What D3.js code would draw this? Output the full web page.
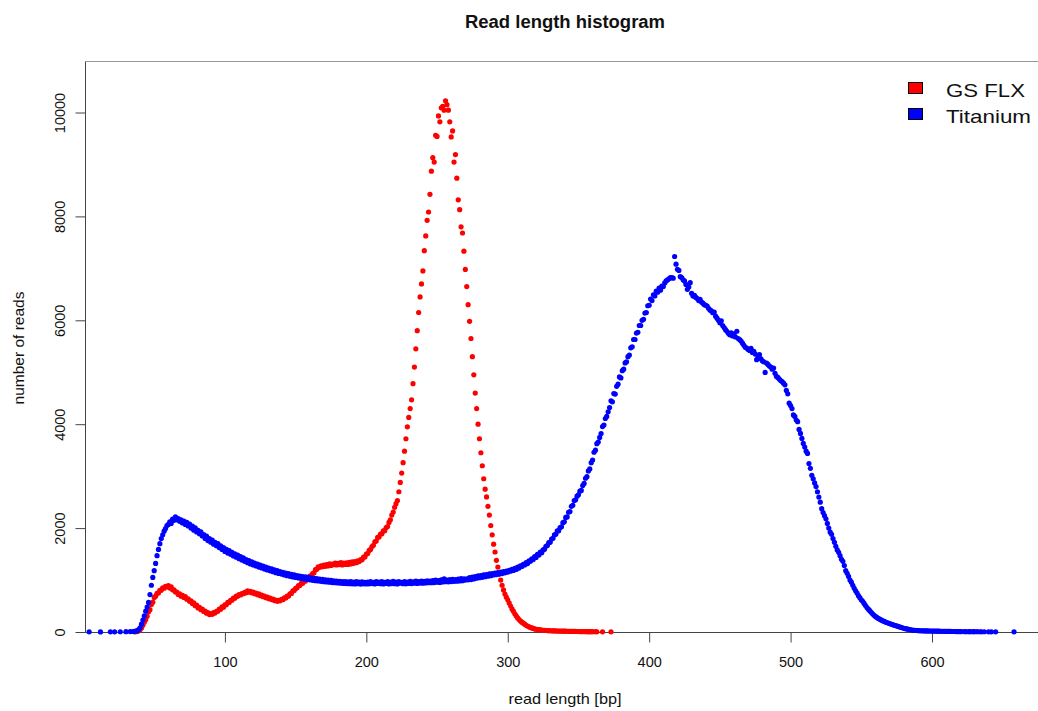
<!DOCTYPE html>
<html>
<head>
<meta charset="utf-8">
<script src="https://cdn.jsdelivr.net/npm/d3@7/dist/d3.min.js"></script>
<style>
  body { margin: 0; background: #fff; }
  text { font-family: "Liberation Sans", Arial, Helvetica, sans-serif; fill: #111; }
</style>
</head>
<body>
<svg id="paper"></svg>
<script>
// read length histogram, counts per read length (bp)
let seriesNames = ["GS FLX", "Titanium"];
let seriesColors = ["#ff0000", "#0000ff"];
let xTicks = [100, 200, 300, 400, 500, 600];
let yTicks = [0, 2000, 4000, 6000, 8000, 10000];

// GS FLX: first value is length 36
let gsflxStart = 36;
let gsflxCounts = [
  3, 6, 11, 22, 42, 78, 128, 190, 238, 305,                 // 36
  390, 430, 530, 575, 665, 690, 745, 752, 800, 805,         // 46
  850, 842, 880, 870, 895, 845, 870, 812, 810, 770,         // 56
  768, 722, 735, 690, 705, 665, 680, 630, 640, 590,         // 66
  600, 548, 560, 505, 518, 462, 476, 428, 440, 395,         // 76
  400, 362, 372, 335, 352, 340, 372, 365, 398, 400,         // 86
  440, 440, 482, 478, 525, 525, 570, 570, 610, 612,         // 96
  652, 650, 690, 688, 720, 712, 740, 738, 765, 755,         // 106
  790, 765, 782, 755, 768, 738, 748, 718, 732, 700,         // 116
  712, 680, 690, 660, 672, 642, 654, 625, 635, 605,         // 126
  615, 590, 610, 600, 628, 622, 655, 655, 690, 692,         // 136
  735, 742, 790, 800, 838, 850, 892, 895, 935, 940,         // 146
  980, 980, 1025, 1030, 1075, 1080, 1125, 1140, 1200, 1210, // 156
  1255, 1245, 1275, 1258, 1290, 1265, 1298, 1270, 1310, 1280, // 166
  1305, 1295, 1325, 1290, 1320, 1298, 1335, 1290, 1325, 1300, // 176
  1330, 1300, 1340, 1310, 1350, 1322, 1355, 1335, 1368, 1355, // 186
  1395, 1390, 1440, 1445, 1500, 1510, 1570, 1590, 1645, 1670, // 196
  1735, 1750, 1820, 1830, 1885, 1890, 1945, 1950, 2010, 2030, // 206
  2110, 2160, 2250, 2310, 2400, 2470, 2530, 2700, 2880, 3060, // 216
  3260, 3480, 3720, 3950, 4130, 4300, 4470, 4780, 5100, 5450, // 226
  5800, 6150, 6450, 6700, 6950, 7340, 7625, 7925, 8085, 8425, // 236
  8870, 9130, 9045, 9560, 9540, 9935, 9820, 10090, 10120, 10045, // 246
  10225, 10150, 10045, 9820, 9530, 9645, 9045, 9190, 8735, 8320, // 256
  8130, 7800, 7680, 7330, 6980, 6650, 6300, 5980, 5650, 5300, // 266
  4950, 4600, 4300, 4000, 3720, 3450, 3200, 2950, 2750, 2600, // 276
  2420, 2250, 2050, 1870, 1690, 1540, 1380, 1250, 1120, 1000, // 286
  900, 810, 730, 670, 620, 560, 500, 445, 400, 350,         // 296
  310, 270, 240, 210, 190, 170, 150, 130, 115, 100,         // 306
  88, 78, 68, 60, 53, 48, 44, 40, 36, 33,                   // 316
  31, 29, 27, 25, 24, 23, 22, 21, 20, 19,                   // 326
  18, 17, 17, 16, 15, 15, 14, 13, 13, 12,                   // 336
  12, 11, 11, 10, 10, 9, 9, 8, 8, 8,                        // 346
  7, 7, 7, 6, 6, null, 6, 5, null, null,                    // 356
  null, 4, null, null, null, null, null, 3                  // 366
];

// Titanium: first value is length 1
let titaniumStart = 1;
let titaniumCounts = [
  null, null, null, 3, null, null, null, null, null, null,  // 1
  null, 2, null, null, null, null, null, null, 4, null,     // 11
  null, 3, null, null, null, 5, null, null, null, 6,        // 21
  null, null, 8, null, 10, 14, 18, 25, 45, 80,              // 31
  150, 230, 310, 400, 480, 570, 720, 900, 1050, 1180,       // 41
  1320, 1470, 1590, 1700, 1800, 1870, 1940, 1990, 2050, 2070, // 51
  2120, 2090, 2175, 2150, 2215, 2160, 2185, 2130, 2160, 2100, // 61
  2135, 2070, 2110, 2040, 2075, 2000, 2040, 1960, 2005, 1925, // 71
  1955, 1890, 1930, 1850, 1875, 1800, 1845, 1760, 1800, 1730, // 81
  1770, 1690, 1725, 1660, 1700, 1625, 1660, 1590, 1625, 1550, // 91
  1590, 1520, 1565, 1495, 1535, 1465, 1505, 1440, 1480, 1410, // 101
  1450, 1385, 1425, 1360, 1395, 1335, 1375, 1310, 1350, 1290, // 111
  1325, 1270, 1305, 1250, 1290, 1232, 1268, 1212, 1250, 1195, // 121
  1232, 1178, 1215, 1160, 1198, 1142, 1180, 1128, 1162, 1115, // 131
  1150, 1098, 1136, 1085, 1122, 1072, 1110, 1060, 1098, 1050, // 141
  1088, 1040, 1078, 1030, 1068, 1020, 1060, 1012, 1050, 1005, // 151
  1042, 995, 1035, 988, 1028, 982, 1020, 975, 1012, 968,    // 161
  1005, 962, 998, 958, 992, 952, 985, 948, 980, 945,        // 171
  975, 940, 972, 935, 968, 932, 965, 930, 970, 928,         // 181
  962, 925, 968, 930, 960, 922, 965, 928, 958, 925,         // 191
  962, 928, 970, 932, 958, 925, 968, 935, 960, 930,         // 201
  972, 926, 958, 935, 968, 924, 962, 932, 975, 930,         // 211
  960, 925, 968, 938, 955, 930, 972, 928, 962, 935,         // 221
  975, 932, 965, 940, 978, 935, 970, 942, 982, 940,         // 231
  975, 945, 985, 948, 978, 950, 990, 952, 1000, 958,        // 241
  990, 955, 1005, 962, 1025, 968, 1000, 965, 1010, 970,     // 251
  1012, 975, 1008, 978, 1020, 982, 1030, 988, 1025, 1000,   // 261
  1022, 1005, 1045, 1010, 1058, 1020, 1065, 1035, 1080, 1045, // 271
  1088, 1052, 1098, 1065, 1105, 1075, 1118, 1085, 1125, 1098, // 281
  1135, 1105, 1142, 1115, 1152, 1125, 1162, 1140, 1170, 1152, // 291
  1188, 1170, 1205, 1185, 1225, 1205, 1248, 1230, 1272, 1262, // 301
  1300, 1290, 1335, 1318, 1368, 1360, 1410, 1395, 1450, 1435, // 311
  1495, 1480, 1540, 1525, 1580, 1595, 1650, 1665, 1720, 1730, // 321
  1790, 1805, 1870, 1880, 1945, 1948, 2010, 2025, 2105, 2120, // 331
  2205, 2215, 2305, 2320, 2420, 2440, 2530, 2545, 2615, 2640, // 341
  2710, 2725, 2820, 2860, 2960, 2990, 3100, 3140, 3260, 3310, // 351
  3460, 3500, 3625, 3655, 3745, 3820, 3955, 3985, 4110, 4150, // 361
  4240, 4320, 4450, 4430, 4590, 4580, 4730, 4770, 4910, 4890, // 371
  5030, 5060, 5180, 5200, 5300, 5330, 5470, 5490, 5630, 5630, // 381
  5755, 5770, 5900, 5900, 6000, 6020, 6140, 6150, 6280, 6290, // 391
  6410, 6380, 6490, 6470, 6560, 6540, 6620, 6580, 6660, 6650, // 401
  6720, 6757, 6780, 6800, 6820, 6822, 6810, 7228, 7080, 6983, // 411
  6960, 6840, 6822, 6780, 6757, 6690, 6596, 6640, 6725, 6520, // 421
  6467, 6480, 6440, 6420, 6380, 6402, 6350, 6330, 6300, 6290, // 431
  6273, 6230, 6200, 6180, 6145, 6160, 6080, 6040, 6000, 5952, // 441
  5990, 5900, 5860, 5820, 5789, 5750, 5720, 5760, 5700, 5740, // 451
  5680, 5789, 5650, 5628, 5600, 5560, 5520, 5480, 5467, 5440, // 461
  5420, 5460, 5380, 5402, 5350, 5242, 5300, 5338, 5260, 5220, // 471
  5200, 4996, 5177, 5150, 5120, 5100, 5060, 5080, 4980, 4919, // 481
  4900, 4870, 4840, 4822, 4790, 4758, 4650, 4584, 4404, 4360, // 491
  4300, 4178, 4150, 4081, 4049, 3900, 3823, 3727, 3630, 3560, // 501
  3480, 3437, 3243, 3150, 3017, 2950, 2870, 2800, 2700, 2598, // 511
  2500, 2373, 2300, 2240, 2180, 2090, 2000, 1921, 1880, 1800, // 521
  1727, 1650, 1580, 1534, 1470, 1400, 1360, 1280, 1180, 1130, // 531
  1070, 1000, 960, 900, 840, 793, 750, 700, 660, 620,       // 541
  590, 550, 510, 470, 440, 410, 378, 350, 322, 300,         // 551
  280, 262, 246, 232, 218, 205, 194, 183, 172, 162,         // 561
  152, 143, 134, 125, 116, 107, 98, 90, 82, 72,             // 571
  66, 60, 54, 48, 43, 38, 33, 31, 29, 27,                   // 581
  25, 24, 23, 22, 21, 20, 20, 19, 19, 18,                   // 591
  17, 17, 16, 15, 15, 14, 14, 13, 13, 12,                   // 601
  12, 11, 11, 10, 10, 10, 9, 9, 9, 8,                       // 611
  8, null, 8, 7, null, 7, 7, null, 6, 6,                    // 621
  null, 6, null, 5, 5, null, 5, null, null, 4,              // 631
  null, 4, null, null, 4, null, null, null, null, null,     // 641
  null, null, null, null, null, null, null, 3               // 651
];

let width = 1038, height = 711;

function toPoints(start, counts) {
    return counts.map((c, i) => ({len: start + i, count: c}))
        .filter(d => d.count !== null);
}

let svg = d3.select("#paper")
    .attr("width", width)
    .attr("height", height);

svg.append("rect")
    .attr("width", width)
    .attr("height", height)
    .attr("fill", "#fff");

// plot region
let x = d3.scaleLinear().domain([0, 600]).range([83.5, 932]);
let y = d3.scaleLinear().domain([0, 10000]).range([632, 112.5]);
let boxLeft = 85.5, boxTop = 61.5, boxBottom = 632.5, boxRight = 1046;

// box
svg.append("line")
    .attr("x1", boxLeft).attr("x2", boxRight)
    .attr("y1", boxTop).attr("y2", boxTop)
    .style("stroke", "#999").style("stroke-width", 1);
svg.append("line")
    .attr("x1", boxLeft).attr("x2", boxLeft)
    .attr("y1", boxTop).attr("y2", boxBottom)
    .style("stroke", "#444").style("stroke-width", 1);
svg.append("line")
    .attr("x1", boxLeft).attr("x2", boxRight)
    .attr("y1", boxBottom).attr("y2", boxBottom)
    .style("stroke", "#444").style("stroke-width", 1);

// x axis
let xAxis = svg.append("g")
    .attr("transform", "translate(0," + boxBottom + ")")
    .call(d3.axisBottom(x).tickValues(xTicks).tickSize(10).tickSizeOuter(0).tickPadding(24));
xAxis.select(".domain").remove();
xAxis.selectAll(".tick line").style("stroke", "#444");
xAxis.selectAll(".tick text")
    .attr("dy", 0)
    .style("font-size", "14.5px")
    .style("font-family", "Liberation Sans, Arial, sans-serif")
    .style("fill", "#111");

// y axis, labels parallel to axis
let yAxis = svg.append("g")
    .attr("transform", "translate(" + boxLeft + ",0)")
    .call(d3.axisLeft(y).tickValues(yTicks).tickFormat(d3.format("d"))
        .tickSize(10).tickSizeOuter(0));
yAxis.select(".domain").remove();
yAxis.selectAll(".tick line").style("stroke", "#444");
yAxis.selectAll(".tick text")
    .attr("x", null).attr("dy", null)
    .attr("text-anchor", "middle")
    .attr("transform", "translate(-21,0) rotate(-90)")
    .style("font-size", "14.5px")
    .style("font-family", "Liberation Sans, Arial, sans-serif")
    .style("fill", "#111");

// titles
svg.append("text")
    .attr("x", 565).attr("y", 28)
    .attr("text-anchor", "middle")
    .attr("textLength", 200)
    .attr("lengthAdjust", "spacingAndGlyphs")
    .style("font-size", "17.5px")
    .style("font-weight", "bold")
    .text("Read length histogram");

svg.append("text")
    .attr("x", 565).attr("y", 704)
    .attr("text-anchor", "middle")
    .attr("textLength", 113)
    .attr("lengthAdjust", "spacingAndGlyphs")
    .style("font-size", "14.5px")
    .text("read length [bp]");

svg.append("text")
    .attr("transform", "translate(24,348) rotate(-90)")
    .attr("text-anchor", "middle")
    .attr("textLength", 113)
    .attr("lengthAdjust", "spacingAndGlyphs")
    .style("font-size", "14.5px")
    .text("number of reads");

// points
let series = [toPoints(gsflxStart, gsflxCounts), toPoints(titaniumStart, titaniumCounts)];
series.forEach(function (pts, k) {
    svg.append("g").selectAll("circle")
        .data(pts)
        .enter()
        .append("circle")
        .attr("cx", d => x(d.len))
        .attr("cy", d => y(d.count))
        .attr("r", 2.6)
        .style("fill", seriesColors[k]);
});

// legend
let legendWidths = [79, 85];
let legend = svg.append("g");
seriesNames.forEach(function (name, k) {
    legend.append("rect")
        .attr("x", 908.5).attr("y", 82.5 + k * 26)
        .attr("width", 14).attr("height", 11)
        .style("fill", seriesColors[k])
        .style("stroke", "#000").style("stroke-width", 1);
    legend.append("text")
        .attr("x", 946).attr("y", 97 + k * 26)
        .attr("textLength", legendWidths[k])
        .attr("lengthAdjust", "spacingAndGlyphs")
        .style("font-size", "18.5px")
        .text(name);
});
</script>
</body>
</html>
